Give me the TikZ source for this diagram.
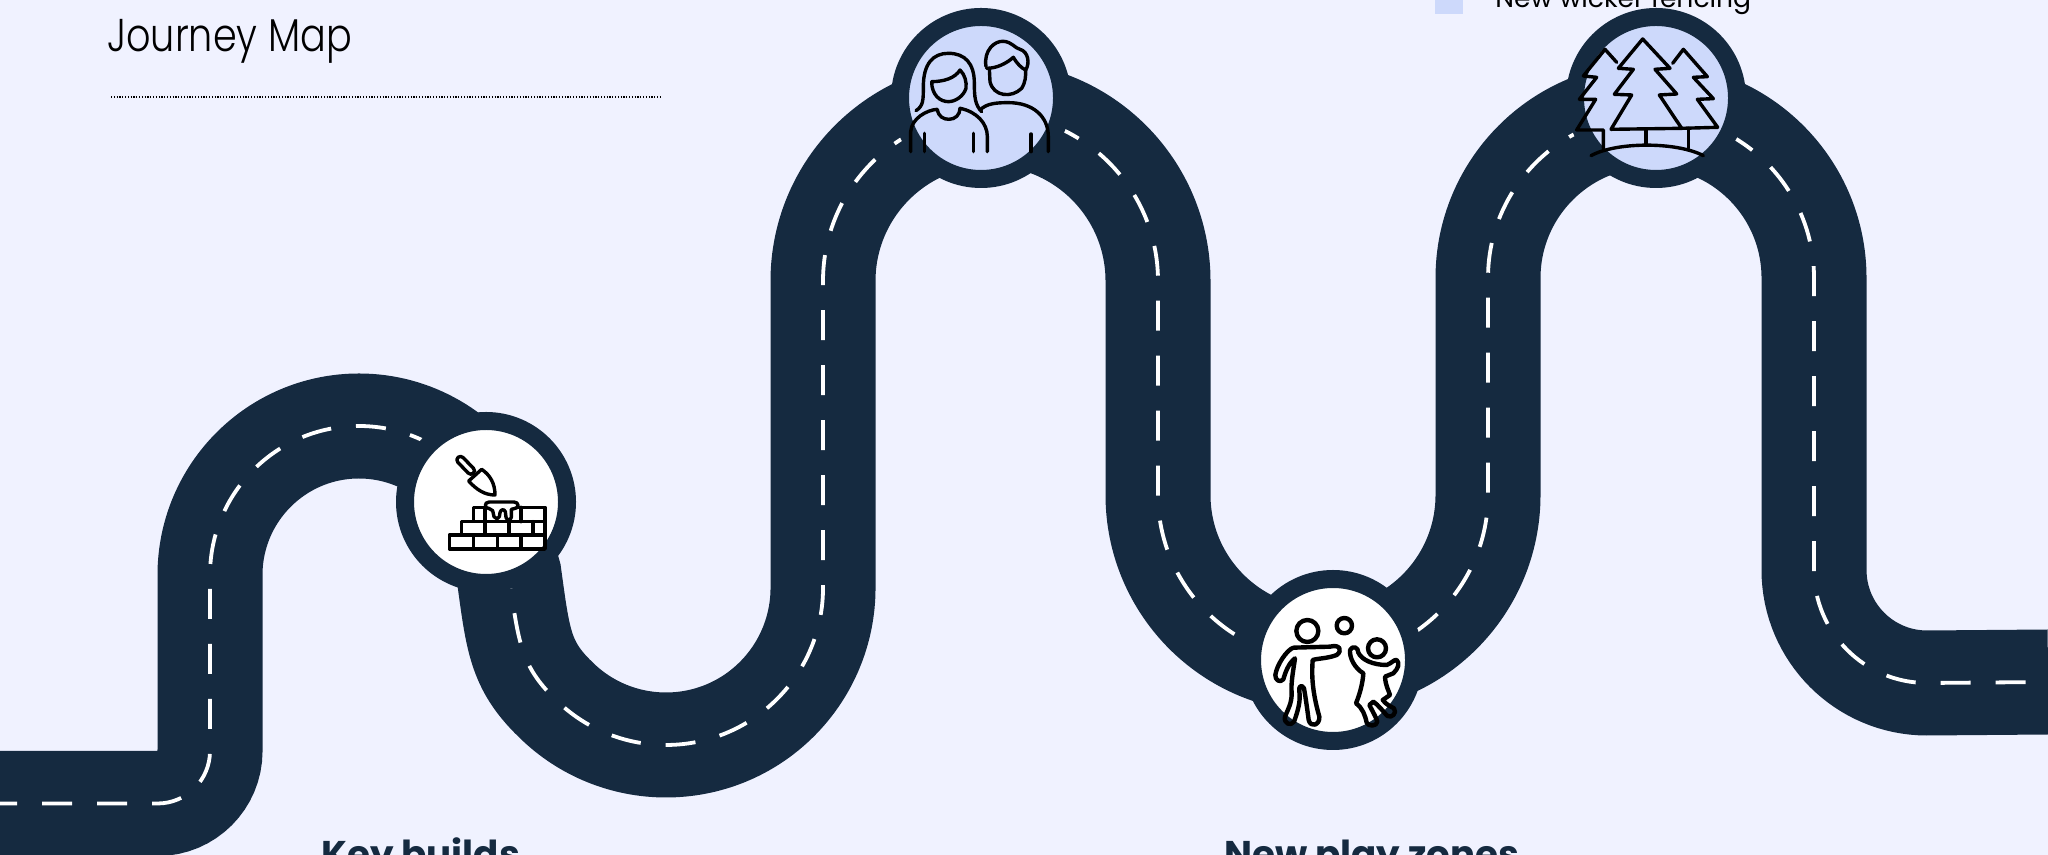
\documentclass[tikz,border=0pt]{standalone}
\usepackage{fontspec}
\setmainfont{Poppins}
\newfontfamily\titlefont[FakeStretch=0.83]{Poppins Light}
\usepackage{xcolor}
\definecolor{roadblue}{HTML}{152A40}
\definecolor{pagetint}{HTML}{F0F2FF}
\definecolor{stoptint}{HTML}{CDD9FB}
\tikzset{
  roadline/.style={line width=52.5pt, roadblue},
  roadmark/.style={line width=1.9pt, white, dash pattern=on 15pt off 12.5pt, dash phase=6.5pt},
  stopring/.style={circle, draw=roadblue, line width=9pt, minimum size=81pt, inner sep=0pt},
  iconline/.style={line width=1.7pt, black, line join=round, line cap=round},
  kidline/.style={line width=2.2pt, black, line join=round, line cap=round},
  heading/.style={anchor=base west, inner sep=0pt, text=roadblue, font=\fontsize{18.6}{22}\selectfont\bfseries}
}

\begin{document}
\begin{tikzpicture}[x=0.5pt, y=0.5pt]
        \useasboundingbox (0,0) rectangle (2048,855);
        \clip (0,0) rectangle (2048,855);
        \fill[pagetint] (0,0) rectangle (2048,855);

        % Define stops on the road
        \coordinate (a1) at (486,353);   % Key builds
        \coordinate (a2) at (981,757);   % Family
        \coordinate (a3) at (1333,195);  % New play zones
        \coordinate (a4) at (1656,757);  % Trees

        % Draw the road and its centre marks
        \foreach \roadstyle in {roadline, roadmark} {
          \draw[\roadstyle] (0,51.5) -- (157.5,51.5) arc (-90:0:52.5) -- (210,280)
            arc (180:30:149) -- (509,280) .. controls (518,215) and (520,190) .. (555,156)
            arc (225:360:157) -- (823,574) arc (180:0:167.5) -- (1158,360)
            arc (180:360:165) -- (1488,577) arc (180:0:163) -- (1814,285)
            arc (180:270:113) -- (2048,173);
        }

        % Draw the stops
        \node[stopring, fill=white] (buildstop) at (a1) {};
        \node[stopring, fill=stoptint] (familystop) at (a2) {};
        \node[stopring, fill=white] (playstop) at (a3) {};
        \node[stopring, fill=stoptint] (treestop) at (a4) {};

        % Trowel and brick wall
        \begin{scope}[shift={(380,455)}, xscale=1/3, yscale=-1/3]
          \draw[iconline, rounded corners=1.8pt] (226,179) -- (242,165) -- (288,213) -- (272,227) -- cycle;
          \draw[iconline] (266,243) -- (305,208) .. controls (330,225) and (345,250) .. (345,285)
            .. controls (315,285) and (290,270) .. cycle;
          \draw[iconline] (208,405) rectangle (495,447);
          \draw[iconline] (244,365) rectangle (495,405);
          \draw[iconline] (280,322) rectangle (495,365);
          \foreach \xbrick in {280,352,423} { \draw[iconline] (\xbrick,405) -- (\xbrick,447); }
          \foreach \xbrick in {315,387,459} { \draw[iconline] (\xbrick,365) -- (\xbrick,405); }
          \foreach \xbrick in {315,387,423} { \draw[iconline] (\xbrick,322) -- (\xbrick,365); }
          \draw[iconline, fill=white] (328,306) -- (402,306) .. controls (418,306) and (418,326) .. (402,326)
            -- (394,328) -- (394,352) .. controls (392,362) and (380,362) .. (378,352) -- (376,335)
            .. controls (372,326) and (362,328) .. (360,338) -- (358,350) .. controls (354,358) and (344,356) .. (342,350)
            -- (338,332) -- (328,326) .. controls (312,326) and (312,306) .. cycle;
        \end{scope}

        % Two people
        \begin{scope}[shift={(880,855)}, xscale=1/3, yscale=-1/3]
          \draw[iconline] (108,332) .. controls (130,318) and (130,300) .. (130,260)
            .. controls (130,190) and (160,160) .. (205,160)
            .. controls (255,160) and (283,190) .. (283,250)
            .. controls (283,290) and (285,315) .. (305,335);
          \draw[iconline] (155,245) .. controls (190,245) and (225,235) .. (240,210)
            .. controls (255,225) and (260,245) .. (258,265)
            .. controls (250,290) and (225,305) .. (205,305)
            .. controls (180,305) and (155,285) .. cycle;
          \draw[iconline] (92,455) -- (92,395) .. controls (95,355) and (140,330) .. (172,328)
            .. controls (175,350) and (190,358) .. (207,358)
            .. controls (225,358) and (240,345) .. (240,325)
            .. controls (290,335) and (322,370) .. (322,410) -- (322,455);
          \draw[iconline] (133,400) -- (133,455);
          \draw[iconline] (280,400) -- (280,455);
          \draw[iconline] (453,402) -- (453,455);
          \draw[iconline] (300,330) .. controls (320,310) and (350,308) .. (385,308)
            .. controls (460,308) and (505,350) .. (505,410) -- (505,455);
          \draw[iconline] (318,200) .. controls (310,150) and (345,122) .. (370,124)
            .. controls (395,125) and (405,145) .. (420,148)
            .. controls (445,155) and (450,190) .. (437,210);
          \draw[iconline] (320,205) .. controls (350,205) and (380,190) .. (400,172)
            .. controls (410,190) and (425,205) .. (437,210);
          \draw[iconline] (328,205) -- (330,245) .. controls (340,290) and (395,295) .. (425,265)
            .. controls (437,245) and (437,230) .. (437,210);
        \end{scope}

        % Adult, child and ball
        \begin{scope}[shift={(1230,295)}, xscale=1/3, yscale=-1/3]
          \draw[kidline] (232,213) circle (33);
          \draw[kidline] (343,197) circle (23);
          \draw[kidline] (441,265) circle (27);
          \draw[kidline] (190,263) -- (300,260) .. controls (330,252) and (338,272) .. (320,285)
            .. controls (295,295) and (265,295) .. (248,300) .. controls (245,340) and (245,390) .. (268,470)
            .. controls (270,495) and (242,505) .. (236,480) .. controls (232,450) and (228,420) .. (222,385)
            .. controls (215,372) and (205,378) .. (208,395) .. controls (212,420) and (205,450) .. (192,485)
            .. controls (182,500) and (160,490) .. (165,470) .. controls (175,445) and (185,430) .. (185,400)
            .. controls (182,370) and (190,330) .. (195,295) .. controls (175,310) and (165,340) .. (160,358)
            .. controls (150,370) and (135,360) .. (136,345) .. controls (140,315) and (170,270) .. cycle;
          \draw[kidline] (360,270) .. controls (368,255) and (385,262) .. (385,278)
            .. controls (395,300) and (430,315) .. (470,315) .. controls (485,310) and (492,298) .. (500,300)
            .. controls (510,310) and (505,325) .. (490,340) -- (465,350)
            .. controls (466,375) and (475,390) .. (480,405) -- (458,420)
            .. controls (470,435) and (480,438) .. (492,445) .. controls (502,460) and (485,475) .. (472,468)
            .. controls (460,455) and (445,435) .. (430,425) -- (418,435)
            .. controls (428,455) and (440,475) .. (442,485) .. controls (440,500) and (415,500) .. (410,488)
            .. controls (405,465) and (398,445) .. (378,430)
            .. controls (390,400) and (398,370) .. (400,340)
            .. controls (375,325) and (358,295) .. cycle;
        \end{scope}

        % Pine trees
        \begin{scope}[shift={(1420,855)}, xscale=1/3, yscale=-1/3]
          \draw[iconline] (668,117) -- (750,205) -- (705,208) -- (770,282) -- (718,285) -- (785,385)
            -- (573,388) -- (635,285) -- (583,283) -- (640,208) -- (595,205) -- cycle;
          \draw[iconline] (590,187) -- (555,148) -- (490,228) -- (530,232) -- (478,298) -- (527,298)
            -- (470,390) -- (550,390) -- (550,445);
          \draw[iconline] (758,190) -- (790,148) -- (862,230) -- (820,232) -- (880,296) -- (832,298)
            -- (893,382) -- (785,385);
          \draw[iconline] (678,390) -- (678,432);
          \draw[iconline] (805,385) -- (805,445);
          \draw[iconline] (513,467) .. controls (590,425) and (770,425) .. (850,467);
        \end{scope}

        % Title and legend
        \node[anchor=base west, inner sep=0pt, font=\fontsize{23}{28}\selectfont\titlefont] (title) at (107,803) {Journey Map};
        \coordinate (rulestart) at (111,758);
        \coordinate (ruleend) at (661,758);
        \draw[line width=0.6pt, black, dash pattern=on 0.6pt off 0.8pt] (rulestart) -- (ruleend);
        \fill[stoptint] (1435,841) rectangle (1463,860);
        \node[anchor=base west, inner sep=0pt, font=\fontsize{13.3}{18}\selectfont, text=black] (legendtext) at (1495,847) {New wicker fencing};

        % Headings below the road
        \node[heading] (buildhead) at (321,-13) {Key builds};
        \node[heading] (playhead) at (1224,-13) {New play zones};
    \end{tikzpicture}
\end{document}
